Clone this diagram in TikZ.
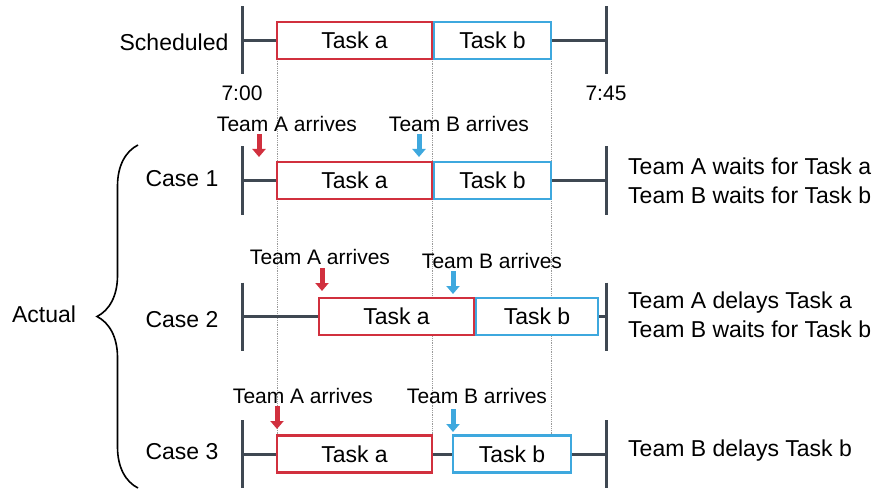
\documentclass[tikz,border=0pt]{standalone}
\usepackage{fontspec}
\setmainfont{Liberation Sans}
\usetikzlibrary{arrows.meta, calc, decorations.pathreplacing}
\definecolor{colTaskA}{HTML}{D1303E}
\definecolor{colTaskB}{HTML}{3EA8DE}
\definecolor{colLine}{HTML}{3F4852}
\definecolor{colGuide}{HTML}{9A9A9A}

\begin{document}
\begin{tikzpicture}[x=1pt, y=-1pt, font=\fontsize{23}{29}\selectfont,
    timeline/.style={colLine, line width=3pt},
    taskbox/.style={fill=white, line width=2.5pt, minimum height=37pt, inner sep=0pt},
    arrive/.style={line width=5pt, -{Triangle[width=13pt, length=8pt]}},
    txt/.style={inner sep=0pt},
    small/.style={txt, font=\fontsize{21}{25}\selectfont}]
  \useasboundingbox (0,0) rectangle (872,489);

  % Parameters
  \def\startX{242}
  \def\endX{606}
  \def\tickH{34}
  \def\arrowLen{23}

  % Draw Guide Lines (dotted, behind the boxes)
  \foreach \x in {277,432,551} {
    \draw[colGuide, densely dotted, line width=0.8pt] (\x,59) -- (\x,436);
  }

  % Draw Rows: row / y / task a centre / a width / task b centre / b width
  \foreach \r/\y/\ac/\aw/\bc/\bw in {0/40.5/354.5/155/492.5/117,
                                     1/180.5/354.5/155/492.5/117,
                                     2/316.5/396.5/155/537/122,
                                     3/454/354.5/155/512/118} {
    \coordinate (l\r) at (\startX,\y);
    \coordinate (r\r) at (\endX,\y);
    \draw[timeline] (l\r) -- (r\r);
    \draw[timeline] ($(l\r)+(0,-\tickH)$) -- ($(l\r)+(0,\tickH)$);
    \draw[timeline] ($(r\r)+(0,-\tickH)$) -- ($(r\r)+(0,\tickH)$);
    \node[taskbox, draw=colTaskA, minimum width=\aw pt] (a\r) at (\ac,\y) {Task a};
    \node[taskbox, draw=colTaskB, minimum width=\bw pt] (b\r) at (\bc,\y) {Task b};
  }

  % Times
  \node[small] (t700) at (\startX,93) {7:00};
  \node[small] (t745) at (\endX,93) {7:45};

  % Draw Arrivals: row / A x / A top / A label x / A label y / B x / B top / B label x / B label y
  \foreach \r/\xa/\ya/\lax/\lay/\xb/\yb/\lbx/\lby in {1/259/134/287/124/419/134/459/124,
                                                     2/322/268/320/257/453/271/492/261,
                                                     3/277/406/303/396/453/409/477/396} {
    \node[small] (ta\r) at (\lax,\lay) {Team A arrives};
    \node[small] (tb\r) at (\lbx,\lby) {Team B arrives};
    \coordinate (sa\r) at (\xa,\ya);
    \coordinate (sb\r) at (\xb,\yb);
    \draw[arrive, colTaskA] (sa\r) -- ($(sa\r)+(0,\arrowLen)$);
    \draw[arrive, colTaskB] (sb\r) -- ($(sb\r)+(0,\arrowLen)$);
  }

  % Row labels
  \node[txt] (sched) at (174,42) {Scheduled};
  \node[txt] (case1) at (182,179) {Case 1};
  \node[txt] (case2) at (182,320) {Case 2};
  \node[txt] (case3) at (182,452) {Case 3};
  \node[txt] (actual) at (44,314) {Actual};

  % Brace
  \draw[line width=1.6pt, decorate, decoration={brace, amplitude=41pt}] (138,488) -- (138,145);

  % Outcomes
  \node[txt, anchor=west, align=left] (out1) at (628,181) {Team A waits for Task a\\Team B waits for Task b};
  \node[txt, anchor=west, align=left] (out2) at (628,315) {Team A delays Task a\\Team B waits for Task b};
  \node[txt, anchor=west] (out3) at (628,451) {Team B delays Task b};
\end{tikzpicture}
\end{document}
